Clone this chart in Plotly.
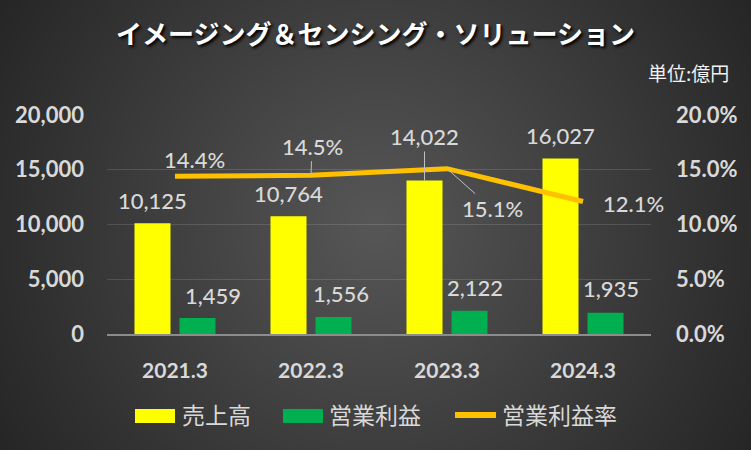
import base64
import struct
import zlib

import numpy as np
import plotly.graph_objects as go

# data
years = ["2021.3", "2022.3", "2023.3", "2024.3"]
sales = [10125, 10764, 14022, 16027]
op_profit = [1459, 1556, 2122, 1935]
op_margin = [0.144, 0.145, 0.151, 0.121]
series_names = ["売上高", "営業利益", "営業利益率"]
title_text = "イメージング＆センシング・ソリューション"
unit_text = "単位:億円"

# label offsets in pixels (dx, dy up), leader line flag
sales_lbl = [(0, 23, False), (0, 23, False), (0, 44, True), (0, 23, False)]
profit_lbl = [(15, 23, False), (7, 23, False), (5, 23, False), (5, 24, False)]
margin_lbl = [(19, 17, False), (1, 29, True), (45, -40, True), (50, -2, False)]

W, H = 751, 450
L, R, T, B = 107, 100, 115, 116
PW, PH = W - L - R, H - T - B

YELLOW = "#FFFF00"
GREEN = "#00B050"
ORANGE = "#FFC000"
TXT = "#D9D9D9"
NUM_FONT = "Lato, 'Open Sans', sans-serif"
JP_FONT = "'Noto Sans CJK JP', sans-serif"


def radial_bg(w, h, inner=87, outer=38):
    yy, xx = np.mgrid[0:h, 0:w]
    d = np.hypot(xx - w / 2, yy - h / 2) / np.hypot(w / 2, h / 2)
    a = np.clip(inner - (inner - outer) * d, 0, 255).astype(np.uint8)
    raw = b"".join(b"\x00" + row.tobytes() for row in a)

    def chunk(t, data):
        c = t + data
        return struct.pack(">I", len(data)) + c + struct.pack(">I", zlib.crc32(c) & 0xFFFFFFFF)

    png = (b"\x89PNG\r\n\x1a\n"
           + chunk(b"IHDR", struct.pack(">IIBBBBB", w, h, 8, 0, 0, 0, 0))
           + chunk(b"IDAT", zlib.compress(raw, 9))
           + chunk(b"IEND", b""))
    return "data:image/png;base64," + base64.b64encode(png).decode()


def px(x):
    return (x - L) / PW


def py(y):
    return (H - B - y) / PH


fig = go.Figure()

fig.add_trace(go.Bar(x=years, y=sales, name=series_names[0], marker_color=YELLOW,
                     marker_line_width=0, showlegend=False))
fig.add_trace(go.Bar(x=years, y=op_profit, name=series_names[1], marker_color=GREEN,
                     marker_line_width=0, showlegend=False))
fig.add_trace(go.Scatter(x=years, y=op_margin, name=series_names[2], yaxis="y2",
                         mode="lines", line=dict(color=ORANGE, width=5),
                         showlegend=False))

annotations = []
lbl_font = dict(family=NUM_FONT, size=22, color=TXT, weight=500)


def add_label(x, y, text, dx, dy, leader, yref="y", shift=0):
    # x is the category index (strings like "2021.3" would be read as numbers)
    if leader:
        annotations.append(dict(x=x, y=y, yref=yref, text=text, font=lbl_font,
                                showarrow=True, arrowhead=0, arrowwidth=1,
                                arrowcolor="#BFBFBF", ax=dx, ay=-dy, xshift=shift))
    else:
        annotations.append(dict(x=x, y=y, yref=yref, text=text, font=lbl_font,
                                showarrow=False, xanchor="center", yanchor="middle",
                                xshift=shift + dx, yshift=dy))


for i in range(len(years)):
    dx, dy, ld = sales_lbl[i]
    add_label(i, sales[i], f"{sales[i]:,}", dx, dy, ld, shift=-22.5)
    dx, dy, ld = profit_lbl[i]
    add_label(i, op_profit[i], f"{op_profit[i]:,}", dx, dy, ld, shift=22.5)
    dx, dy, ld = margin_lbl[i]
    add_label(i, op_margin[i], f"{op_margin[i]*100:.1f}%", dx, dy, ld, yref="y2")

annotations.append(dict(xref="paper", yref="paper", x=px(731), y=py(72),
                        xanchor="right", yanchor="middle", showarrow=False,
                        text=unit_text, font=dict(family=JP_FONT, size=19, color="#F2F2F2")))

# custom legend
shapes = []
legend_items = [
    (series_names[0], YELLOW, "bar", 135, 175, 180),
    (series_names[1], GREEN, "bar", 283, 323, 327),
    (series_names[2], ORANGE, "line", 455, 496, 500),
]
for name, col, kind, x0, x1, tx in legend_items:
    if kind == "bar":
        shapes.append(dict(type="rect", xref="paper", yref="paper", x0=px(x0), x1=px(x1),
                           y0=py(423), y1=py(409), fillcolor=col, line_width=0))
    else:
        shapes.append(dict(type="line", xref="paper", yref="paper", x0=px(x0), x1=px(x1),
                           y0=py(415), y1=py(415), line=dict(color=col, width=6)))
    annotations.append(dict(xref="paper", yref="paper", x=px(tx), y=py(414),
                            xanchor="left", yanchor="middle", showarrow=False,
                            text=name, font=dict(family=JP_FONT, size=23, color=TXT)))

fig.update_layout(
    width=W, height=H,
    margin=dict(l=L, r=R, t=T, b=B, pad=0),
    paper_bgcolor="#262626",
    plot_bgcolor="rgba(0,0,0,0)",
    barmode="group",
    bargap=0.338,
    bargroupgap=0.2,
    title=dict(text=title_text, x=0.5, xanchor="center", y=1 - 35 / H, yanchor="middle",
               font=dict(family=JP_FONT, size=26, color="#FFFFFF", weight="bold",
                         shadow="2px 2px 3px #000000")),
    xaxis=dict(type="category", range=[-0.5, len(years) - 0.5], showgrid=False,
               showline=True, linecolor="#8C8C8C",
               linewidth=2, ticks="", ticklabelstandoff=17,
               tickfont=dict(family=NUM_FONT, size=21, color=TXT, weight="bold")),
    yaxis=dict(range=[0, 20000], dtick=5000, tickformat=",", showgrid=True,
               gridcolor="rgba(255,255,255,0.13)", gridwidth=1, zeroline=False,
               ticks="", ticklabelstandoff=22,
               tickfont=dict(family=NUM_FONT, size=22, color=TXT, weight="bold")),
    yaxis2=dict(range=[0, 0.2], dtick=0.05, tickformat=".1%", overlaying="y", side="right",
                showgrid=False, zeroline=False, ticks="", ticklabelstandoff=24,
                tickfont=dict(family=NUM_FONT, size=22, color=TXT, weight="bold")),
    images=[dict(source=radial_bg(W, H), xref="paper", yref="paper",
                 x=px(0), y=py(0), sizex=W / PW, sizey=H / PH,
                 xanchor="left", yanchor="top", sizing="stretch", layer="below")],
    shapes=shapes,
    annotations=annotations,
    showlegend=False,
)

fig.write_html("out.html", config={"displayModeBar": False},
               post_script="document.body.style.margin='0';")
